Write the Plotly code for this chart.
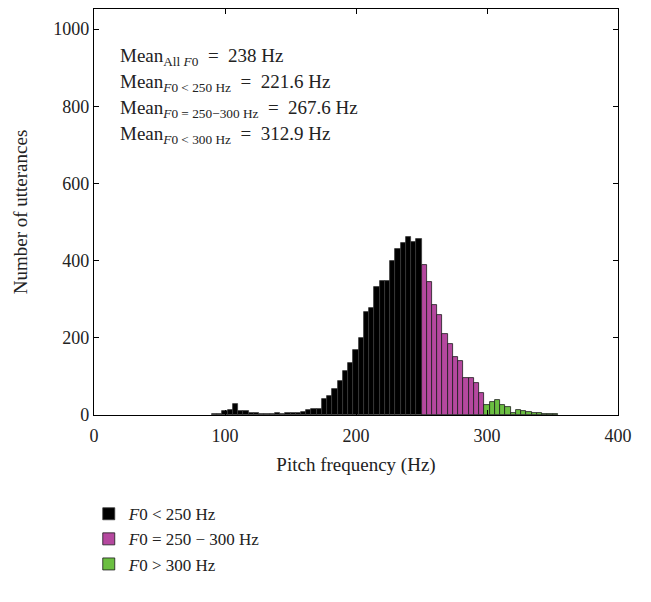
import plotly.graph_objects as go

# Histogram of pitch frequency, 4 Hz bins
bin_width = 4
low_start = 90     # first bin edge of the F0 < 250 Hz group
mid_start = 250    # first bin edge of the F0 = 250-300 Hz group
high_start = 298   # first bin edge of the F0 > 300 Hz group

counts_low = [3, 3, 10, 14, 29, 11, 10, 6, 6, 3,
              3, 3, 5, 3, 6, 6, 6, 8, 14, 16,
              16, 41, 49, 67, 89, 113, 135, 169, 199, 267,
              276, 332, 348, 348, 400, 430, 445, 460, 447, 455]
counts_mid = [389, 344, 284, 258, 211, 185, 150, 139, 95, 95, 84, 58]
counts_high = [27, 33, 40, 25, 21, 5, 12, 10, 8, 4, 5, 3, 3, 2]

legend_names = ["<i>F</i>0 < 250 Hz", "<i>F</i>0 = 250 − 300 Hz", "<i>F</i>0 > 300 Hz"]
fill_colors = ["#000000", "#b5489f", "#6bbf41"]
edge_colors = ["#3a3a3a", "#1a1a1a", "#1a1a1a"]

mean_lines = [
    "Mean<sub>All <i>F</i>0</sub>  =  238 Hz",
    "Mean<sub><i>F</i>0 < 250 Hz</sub>  =  221.6 Hz",
    "Mean<sub><i>F</i>0 = 250−300 Hz</sub>  =  267.6 Hz",
    "Mean<sub><i>F</i>0 < 300 Hz</sub>  =  312.9 Hz",
]

FONT = "Liberation Serif"
TXT = "#222222"

fig = go.Figure()
for start, counts, name, fc, ec in zip(
        [low_start, mid_start, high_start],
        [counts_low, counts_mid, counts_high],
        legend_names, fill_colors, edge_colors):
    centers = [start + bin_width * (i + 0.5) for i in range(len(counts))]
    fig.add_trace(go.Bar(
        x=centers, y=counts, width=bin_width, name=name,
        marker=dict(color=fc, line=dict(color=ec, width=0.8)),
    ))

axis_common = dict(
    showline=True, linecolor="black", linewidth=1.2, mirror="ticks",
    ticks="inside", ticklen=5, tickcolor="black", showgrid=False,
    zeroline=False, tickfont=dict(family=FONT, size=18, color=TXT),
)

fig.update_layout(
    width=651, height=602,
    margin=dict(l=94, r=33, t=9, b=187),
    paper_bgcolor="white", plot_bgcolor="white",
    bargap=0, barmode="overlay",
    font=dict(family=FONT, size=18, color=TXT),
    xaxis=dict(range=[0, 400], tickvals=[0, 100, 200, 300, 400],
               ticklabelstandoff=4,
               title=dict(text="Pitch frequency (Hz)", standoff=12,
                          font=dict(family=FONT, size=19, color=TXT)),
               **axis_common),
    yaxis=dict(range=[0, 1052], tickvals=[0, 200, 400, 600, 800, 1000],
               title=dict(text="Number of utterances", standoff=20,
                          font=dict(family=FONT, size=19, color=TXT)),
               **axis_common),
    legend=dict(x=-0.01, y=-0.2, xanchor="left", yanchor="top",
                font=dict(family=FONT, size=17, color=TXT),
                bgcolor="rgba(0,0,0,0)", tracegroupgap=0, itemwidth=30),
    showlegend=True,
)

for i, line in enumerate(mean_lines):
    fig.add_annotation(
        x=0.045, y=0.882 - i * 0.064, xref="paper", yref="paper",
        xanchor="left", yanchor="middle", text=line, showarrow=False,
        font=dict(family=FONT, size=19, color=TXT),
    )

fig.write_html("out.html")
